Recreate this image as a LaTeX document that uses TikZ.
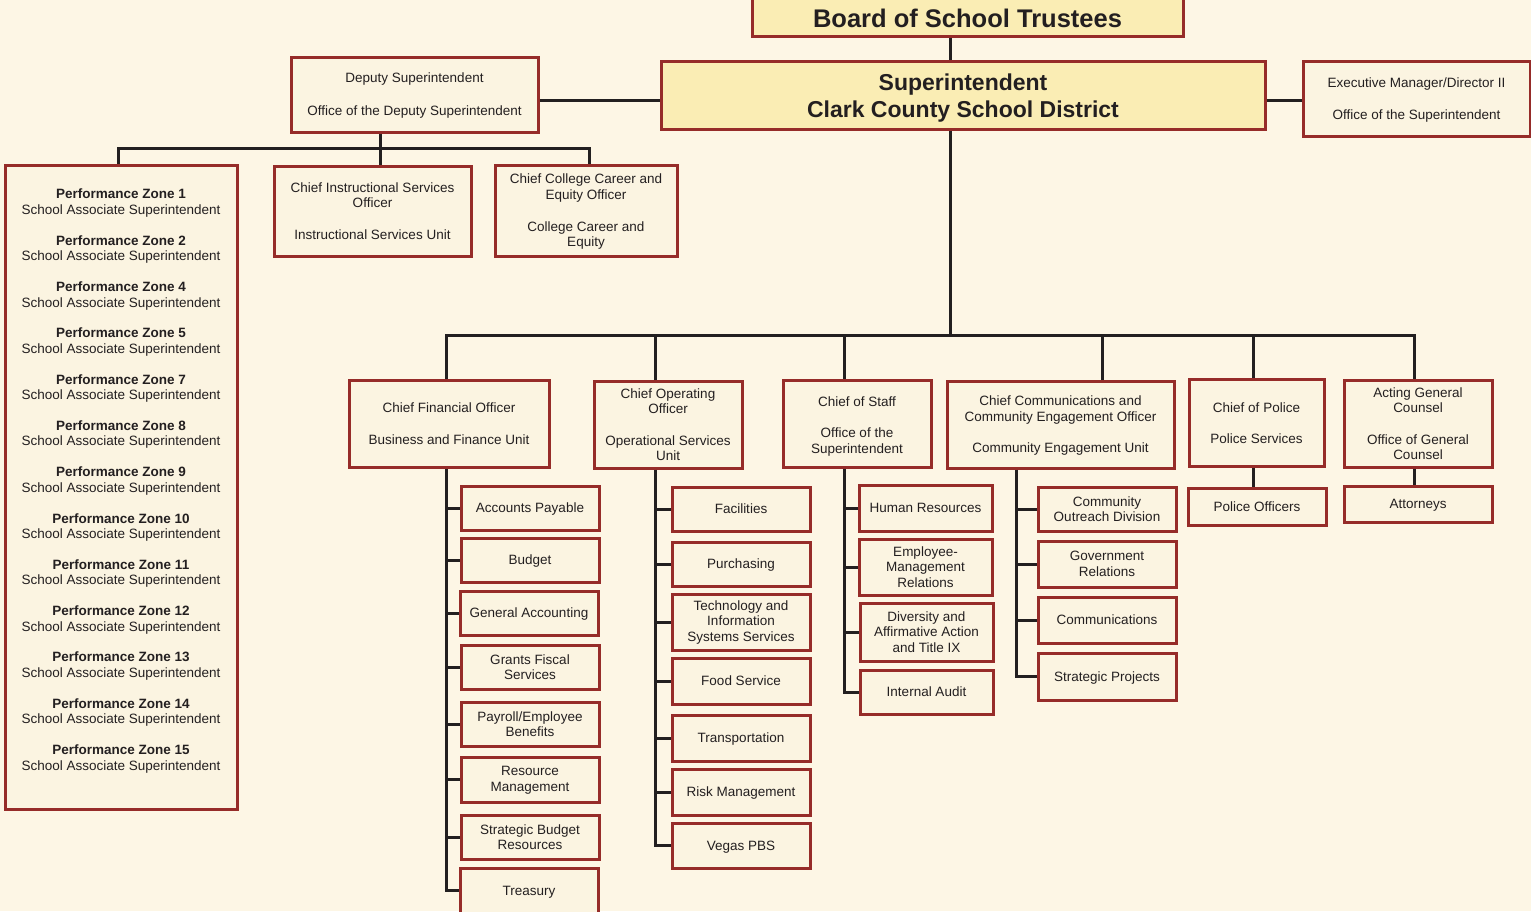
\documentclass[tikz,border=0pt]{standalone}
\usepackage{fontspec}
\setmainfont{Liberation Sans}
\definecolor{pagebg}{HTML}{FDF6E5}
\definecolor{boxbg}{HTML}{FBF4E1}
\definecolor{headbg}{HTML}{FAEDB4}
\definecolor{boxline}{HTML}{962C29}
\definecolor{ink}{HTML}{231F20}

\begin{document}
\begin{tikzpicture}[x=1pt,y=-1pt,
  txt/.style={align=center, inner sep=0pt, text=ink, font=\fontsize{13.5}{15.5}\selectfont},
  unit/.style={txt, draw=boxline, fill=boxbg, line width=3pt},
  oneline/.style={unit, text depth=0pt},
  head/.style={unit, fill=headbg, font=\fontsize{23}{27}\bfseries\selectfont},
  wh/.style 2 args={minimum width=#1, minimum height=#2},
  link/.style={draw=ink, line width=3pt}]
  \useasboundingbox (0,0) rectangle (1531,911);
  \fill[pagebg] (0,0) rectangle (1531,911);
  \clip (0,0) rectangle (1531,911);

  \node[head, wh={431}{39}, text height=22.5pt, text depth=0pt, font=\fontsize{25.5}{30}\bfseries\selectfont] (board) at (967.5,16.5) {Board of School Trustees};
  \node[head, wh={604}{68}] (super) at (963,95) {\rule{0pt}{23pt}Superintendent\\Clark County School District};
  \node[unit, wh={247}{75}] (deputy) at (414.5,94.5) {\rule{0pt}{12pt}Deputy Superintendent\\[17.5pt]Office of the Deputy Superintendent};
  \node[unit, wh={227}{75}] (exec) at (1416.5,98.5) {\rule{0pt}{12pt}Executive Manager/Director II\\[16.5pt]Office of the Superintendent};

  % deputy branch
  \node[unit, wh={232}{644}] (zones) at (121,487) {};
  \node[txt] (zonelist) at (121,481) {%
    \textbf{Performance Zone 1}\\School Associate Superintendent\\[15.3pt]
    \textbf{Performance Zone 2}\\School Associate Superintendent\\[15.3pt]
    \textbf{Performance Zone 4}\\School Associate Superintendent\\[15.3pt]
    \textbf{Performance Zone 5}\\School Associate Superintendent\\[15.3pt]
    \textbf{Performance Zone 7}\\School Associate Superintendent\\[15.3pt]
    \textbf{Performance Zone 8}\\School Associate Superintendent\\[15.3pt]
    \textbf{Performance Zone 9}\\School Associate Superintendent\\[15.3pt]
    \textbf{Performance Zone 10}\\School Associate Superintendent\\[15.3pt]
    \textbf{Performance Zone 11}\\School Associate Superintendent\\[15.3pt]
    \textbf{Performance Zone 12}\\School Associate Superintendent\\[15.3pt]
    \textbf{Performance Zone 13}\\School Associate Superintendent\\[15.3pt]
    \textbf{Performance Zone 14}\\School Associate Superintendent\\[15.3pt]
    \textbf{Performance Zone 15}\\School Associate Superintendent};
  \node[unit, wh={197}{90}] (instr) at (372.5,211) {Chief Instructional Services\\Officer\\[16pt]Instructional Services Unit};
  \node[unit, wh={182}{91}] (college) at (586,210.5) {\rule{0pt}{12pt}Chief College Career and\\Equity Officer\\[16.5pt]College Career and\\Equity};

  % chiefs
  \node[unit, wh={200}{87}] (cfo) at (449,423.5) {\rule{0pt}{11pt}Chief Financial Officer\\[16.5pt]Business and Finance Unit};
  \node[unit, wh={148}{87}] (coo) at (668,424.5) {Chief Operating\\Officer\\[16pt]Operational Services\\Unit};
  \node[unit, wh={148}{87}] (staff) at (857,423.5) {\rule{0pt}{15pt}Chief of Staff\\[16pt]Office of the\\Superintendent};
  \node[unit, wh={227}{87}] (comm) at (1060.5,424.5) {\rule{0pt}{12pt}Chief Communications and\\Community Engagement Officer\\[16pt]Community Engagement Unit};
  \node[unit, wh={135}{87}] (police) at (1256.5,422.5) {\rule{0pt}{11pt}Chief of Police\\[16pt]Police Services};
  \node[unit, wh={148}{87}] (counsel) at (1418,423.5) {Acting General\\Counsel\\[16pt]Office of General\\Counsel};

  % business and finance
  \node[oneline, wh={138}{44}] (ap) at (530,508) {Accounts Payable};
  \node[oneline, wh={138}{44}] (budget) at (530,560) {Budget};
  \node[oneline, wh={138}{44}] (genacc) at (529,613) {General Accounting};
  \node[unit, wh={138}{44}] (grants) at (530,667) {Grants Fiscal\\Services};
  \node[unit, wh={138}{44}] (payroll) at (530,724) {Payroll/Employee\\Benefits};
  \node[unit, wh={138}{45}] (resmgmt) at (530,779.5) {\rule{0pt}{11pt}Resource\\Management};
  \node[unit, wh={138}{44}] (stratbud) at (530,837) {Strategic Budget\\Resources};
  \node[oneline, wh={138}{45}] (treasury) at (529,890.5) {Treasury};

  % operational services
  \node[oneline, wh={138}{44}] (facil) at (741,509) {Facilities};
  \node[oneline, wh={138}{44}] (purch) at (741,564) {Purchasing};
  \node[unit, wh={138}{56}] (tech) at (741,622) {Technology and\\Information\\Systems Services};
  \node[oneline, wh={138}{46}] (food) at (741,681) {Food Service};
  \node[oneline, wh={138}{46}] (transp) at (741,738) {Transportation};
  \node[oneline, wh={138}{46}] (risk) at (741,792) {Risk Management};
  \node[oneline, wh={138}{45}] (pbs) at (741,845.5) {Vegas PBS};

  % office of the superintendent
  \node[oneline, wh={133}{46}] (hr) at (925.5,508) {Human Resources};
  \node[unit, wh={133}{56}] (emr) at (925.5,567) {Employee-\\Management\\Relations};
  \node[unit, wh={133}{58}] (divers) at (926.5,632) {Diversity and\\Affirmative Action\\and Title IX};
  \node[oneline, wh={133}{44}] (audit) at (926.5,692) {Internal Audit};

  % community engagement
  \node[unit, wh={138}{44}] (outreach) at (1107,509) {Community\\Outreach Division};
  \node[unit, wh={138}{46}] (gov) at (1107,564) {Government\\Relations};
  \node[oneline, wh={138}{46}] (comms) at (1107,620) {Communications};
  \node[oneline, wh={138}{47}] (strproj) at (1107,676.5) {Strategic Projects};

  \node[oneline, wh={138}{37}] (officers) at (1257,506.5) {Police Officers};
  \node[oneline, wh={148}{36}] (attorneys) at (1418,504) {Attorneys};

  % trunk and buses
  \coordinate (trunk) at (950,335);
  \coordinate (dline) at (600,100);
  \draw[link] (trunk |- board.south) -- (trunk |- super.north);
  \draw[link] (trunk |- super.south) -- (trunk);
  \draw[link] (dline -| deputy.east) -- (dline -| super.west);
  \draw[link] (dline -| super.east) -- (dline -| exec.west);

  \coordinate (d1) at (118,148);
  \coordinate (d2) at (380,148);
  \coordinate (d3) at (589,148);
  \draw[link] (d2 |- deputy.south) -- (d2);
  \draw[link] (d1 |- zones.north) |- (d3) -- (d3 |- college.north);
  \draw[link] (d2) -- (d2 |- instr.north);

  \coordinate (b1) at (446,335);
  \coordinate (b2) at (655,335);
  \coordinate (b3) at (844,335);
  \coordinate (b4) at (1102,335);
  \coordinate (b5) at (1253,335);
  \coordinate (b6) at (1414,335);
  \coordinate (c4) at (1016,468);
  \draw[link] (b1 |- cfo.north) |- (b6) -- (b6 |- counsel.north);
  \foreach \b/\n in {b2/coo, b3/staff, b4/comm, b5/police}
    \draw[link] (\b) -- (\b |- \n.north);

  % spines
  \draw[link] (b1 |- cfo.south) |- (treasury.west);
  \foreach \n in {ap, budget, genacc, grants, payroll, resmgmt, stratbud}
    \draw[link] (b1 |- \n.west) -- (\n.west);
  \draw[link] (b2 |- coo.south) |- (pbs.west);
  \foreach \n in {facil, purch, tech, food, transp, risk}
    \draw[link] (b2 |- \n.west) -- (\n.west);
  \draw[link] (b3 |- staff.south) |- (audit.west);
  \foreach \n in {hr, emr, divers}
    \draw[link] (b3 |- \n.west) -- (\n.west);
  \draw[link] (c4 |- comm.south) |- (strproj.west);
  \foreach \n in {outreach, gov, comms}
    \draw[link] (c4 |- \n.west) -- (\n.west);
  \draw[link] (b5 |- police.south) -- (b5 |- officers.north);
  \draw[link] (b6 |- counsel.south) -- (b6 |- attorneys.north);
\end{tikzpicture}
\end{document}
